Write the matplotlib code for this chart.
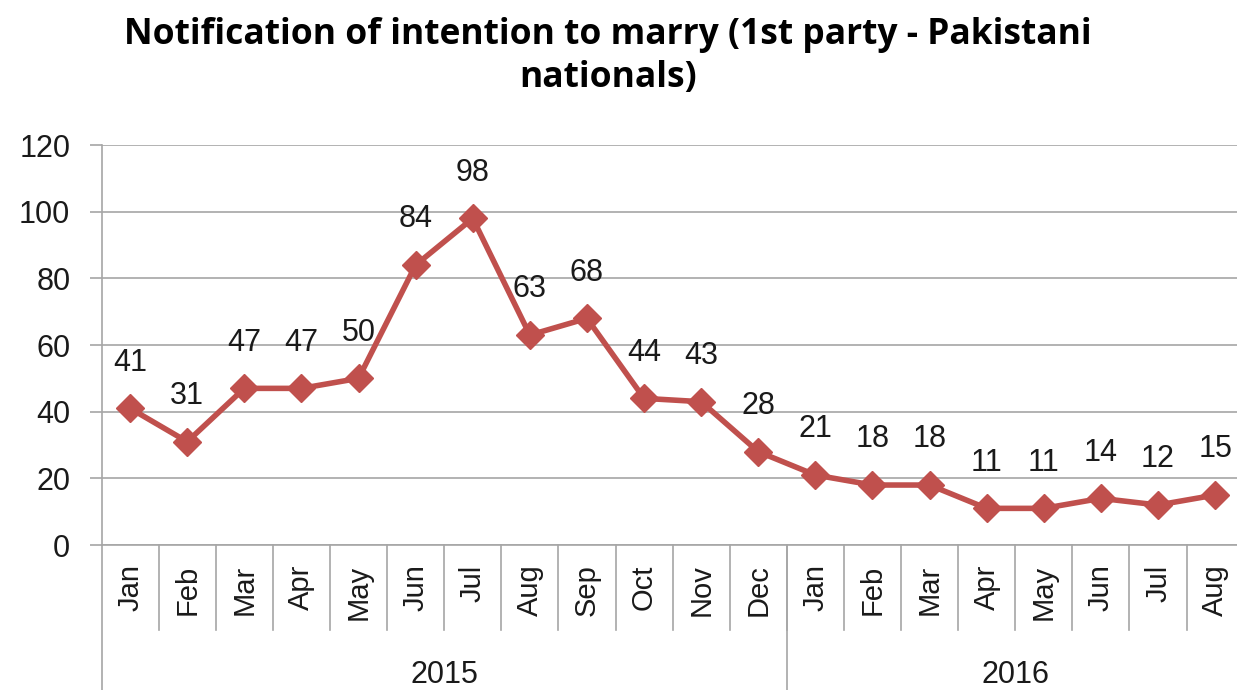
import matplotlib
matplotlib.use("Agg")
import matplotlib.pyplot as plt
import matplotlib.transforms as mtransforms
import numpy as np

plt.rcParams['font.family'] = ['Liberation Sans', 'DejaVu Sans']

MONTHS = ["Jan", "Feb", "Mar", "Apr", "May", "Jun", "Jul", "Aug", "Sep", "Oct",
          "Nov", "Dec", "Jan", "Feb", "Mar", "Apr", "May", "Jun", "Jul", "Aug"]
VALUES = [41, 31, 47, 47, 50, 84, 98, 63, 68, 44, 43, 28, 21, 18, 18, 11, 11, 14, 12, 15]
YEARS = ["2015", "2016"]
YEAR_COUNTS = [12, 8]

LINE_COLOR = "#C0504D"
GRID_COLOR = "#A6A6A6"

fig = plt.figure(figsize=(12.37, 6.90), dpi=100)
ax = fig.add_axes([0.0821, 0.2101, 0.9233, 0.5797])

x = np.arange(len(VALUES))
ax.plot(x, VALUES, color=LINE_COLOR, lw=4.0, marker="D", markersize=14,
        markerfacecolor=LINE_COLOR, markeredgecolor=LINE_COLOR, zorder=3)

for xi, v in zip(x, VALUES):
    ax.annotate(str(v), (xi, v), xytext=(0, 33), textcoords="offset points",
                ha="center", va="center", fontsize=22, color="#1a1a1a")

ax.set_xlim(-0.5, len(VALUES) - 0.5)
ax.set_ylim(0, 120)
ax.set_yticks(range(0, 121, 20))
ax.yaxis.grid(True, color=GRID_COLOR, lw=1.2)
ax.set_axisbelow(True)
ax.tick_params(axis="y", length=8.5, width=1.2, color=GRID_COLOR, pad=14,
               labelsize=22, labelcolor="#1a1a1a")

ax.set_xticks(x)
ax.set_xticklabels(MONTHS, rotation=90, fontsize=21, color="#1a1a1a")
ax.tick_params(axis="x", length=0, pad=14)

for s in ["top", "right"]:
    ax.spines[s].set_visible(False)
for s in ["left", "bottom"]:
    ax.spines[s].set_color(GRID_COLOR)
    ax.spines[s].set_linewidth(1.2)

# category separators and year groups below the axis
trans = mtransforms.blended_transform_factory(ax.transData, ax.transAxes)
for b in np.arange(0.5, len(VALUES) - 0.5, 1.0):
    ax.plot([b, b], [0, -0.2125], transform=trans, color=GRID_COLOR, lw=1.2,
            clip_on=False)
start = -0.5
for year, n in zip(YEARS, YEAR_COUNTS):
    ax.plot([start, start], [0, -0.37], transform=trans, color=GRID_COLOR,
            lw=1.2, clip_on=False)
    ax.text(start + n / 2, -0.325, year, transform=trans, ha="center",
            va="center", fontsize=22, color="#1a1a1a")
    start += n

fig.text(608 / 1237, 1 - 35 / 690,
         "Notification of intention to marry (1st party - Pakistani",
         ha="center", va="center", fontsize=25.5, fontweight="bold",
         family=["Open Sans", "DejaVu Sans"])
fig.text(608 / 1237, 1 - 78 / 690, "nationals)",
         ha="center", va="center", fontsize=25.5, fontweight="bold",
         family=["Open Sans", "DejaVu Sans"])

fig.savefig("out.png", dpi=100)
